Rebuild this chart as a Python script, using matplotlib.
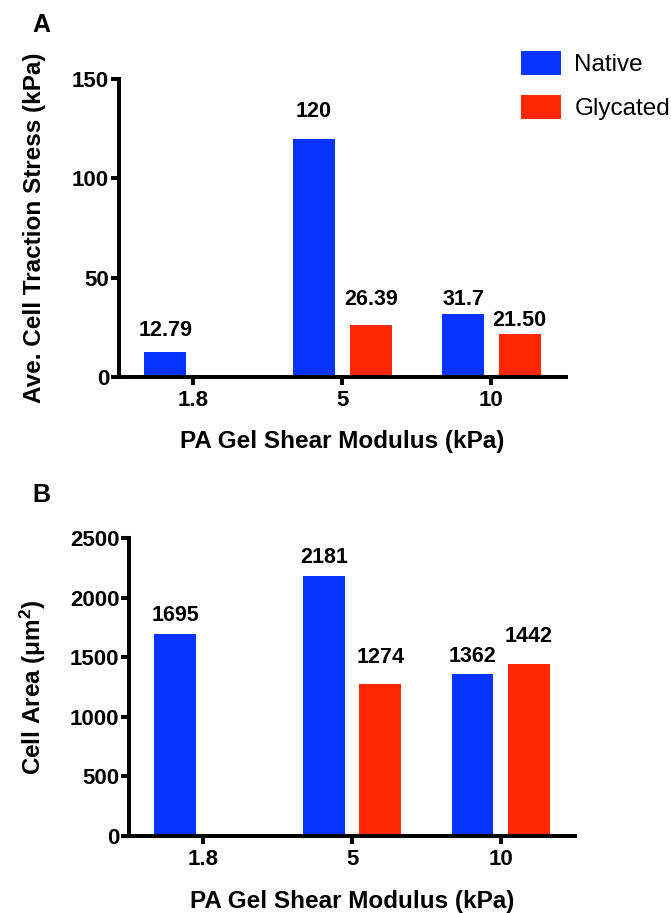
import numpy as np
import matplotlib
matplotlib.use("Agg")
import matplotlib.pyplot as plt

plt.rcParams['font.family'] = ['Liberation Sans', 'DejaVu Sans']
plt.rcParams['font.weight'] = 'bold'
plt.rcParams['mathtext.fontset'] = 'custom'
plt.rcParams['mathtext.rm'] = 'Liberation Sans:bold'
plt.rcParams['mathtext.bf'] = 'Liberation Sans:bold'
plt.rcParams['mathtext.default'] = 'rm'

# data
categories = ["1.8", "5", "10"]
series = ["Native", "Glycated"]

stress_native = [12.79, 120, 31.7]
stress_glycated = [np.nan, 26.39, 21.50]
stress_native_lbl = ["12.79", "120", "31.7"]
stress_glycated_lbl = ["", "26.39", "21.50"]

area_native = [1695, 2181, 1362]
area_glycated = [np.nan, 1274, 1442]
area_native_lbl = ["1695", "2181", "1362"]
area_glycated_lbl = ["", "1274", "1442"]

BLUE = '#0433FF'
RED = '#FF2600'
LW = 2.9
NUM_FS = 16
LABEL_FS = 17.5


def style_axes(ax, ymax, ystep):
    ax.set_xlim(-0.5, 2.5)
    ax.set_ylim(0, ymax)
    ax.set_yticks(np.arange(0, ymax + 1, ystep))
    ax.set_xticks(range(len(categories)))
    ax.set_xticklabels(categories)
    for s in ['top', 'right']:
        ax.spines[s].set_visible(False)
    for s in ['left', 'bottom']:
        ax.spines[s].set_linewidth(LW)
        ax.spines[s].set_capstyle('projecting')
    ax.tick_params(axis='both', width=LW, length=6, labelsize=NUM_FS)
    ax.tick_params(axis='y', pad=1)
    ax.tick_params(axis='x', pad=3)
    for t in ax.get_xticklabels() + ax.get_yticklabels():
        t.set_fontweight('bold')


def draw_panel(ax, nat, gly, nat_lbl, gly_lbl, nat_dy, gly_dy):
    x = np.arange(len(categories))
    w, off = 0.28, 0.19
    bn = ax.bar(x - off, nat, w, color=BLUE, label=series[0], clip_on=False)
    bg = ax.bar(x + off, gly, w, color=RED, label=series[1], clip_on=False)
    for i in range(len(categories)):
        if nat_lbl[i]:
            ax.annotate(nat_lbl[i], (x[i] - off, nat[i]), xytext=(0, nat_dy[i]),
                        textcoords='offset pixels', ha='center', va='center',
                        fontsize=NUM_FS - 0.5, fontweight='bold')
        if gly_lbl[i]:
            ax.annotate(gly_lbl[i], (x[i] + off, gly[i]), xytext=(0, gly_dy[i]),
                        textcoords='offset pixels', ha='center', va='center',
                        fontsize=NUM_FS - 0.5, fontweight='bold')
    return bn, bg


fig = plt.figure(figsize=(6.71, 9.13), dpi=100)

# Panel A
ax1 = fig.add_axes([0.1773, 0.587, 0.666, 0.3264])
bn, bg = draw_panel(ax1, stress_native, stress_glycated,
                    stress_native_lbl, stress_glycated_lbl,
                    [21, 27, 15], [0, 25, 14])
style_axes(ax1, 150, 50)
ax1.set_xlabel("PA Gel Shear Modulus (kPa)", fontsize=LABEL_FS, fontweight='bold', labelpad=14)
ax1.set_ylabel("Ave. Cell Traction Stress (kPa)", fontsize=LABEL_FS, fontweight='bold', labelpad=19)
fig.text(32 / 671, 1 - 25 / 913, "A", fontsize=18, fontweight='bold', va='center')

fig.legend(handles=[bn, bg], labels=series, loc='upper left',
           bbox_to_anchor=(521 / 671, 1 - 51 / 913), frameon=False,
           prop={'size': 17.5, 'weight': 'normal'}, handlelength=1.65, handleheight=1.15,
           handletextpad=0.55, labelspacing=0.75, borderpad=0, borderaxespad=0)

# Panel B
ax2 = fig.add_axes([0.1923, 0.0843, 0.6647, 0.3264])
draw_panel(ax2, area_native, area_glycated, area_native_lbl, area_glycated_lbl,
           [18, 19, 17], [0, 27, 28])
style_axes(ax2, 2500, 500)
ax2.set_xlabel("PA Gel Shear Modulus (kPa)", fontsize=LABEL_FS, fontweight='bold', labelpad=15)
ax2.set_ylabel("Cell Area (μm$^2$)", fontsize=LABEL_FS, fontweight='bold', labelpad=16)
fig.text(32 / 671, 1 - 495 / 913, "B", fontsize=18, fontweight='bold', va='center')

fig.savefig("out.png", dpi=100)
